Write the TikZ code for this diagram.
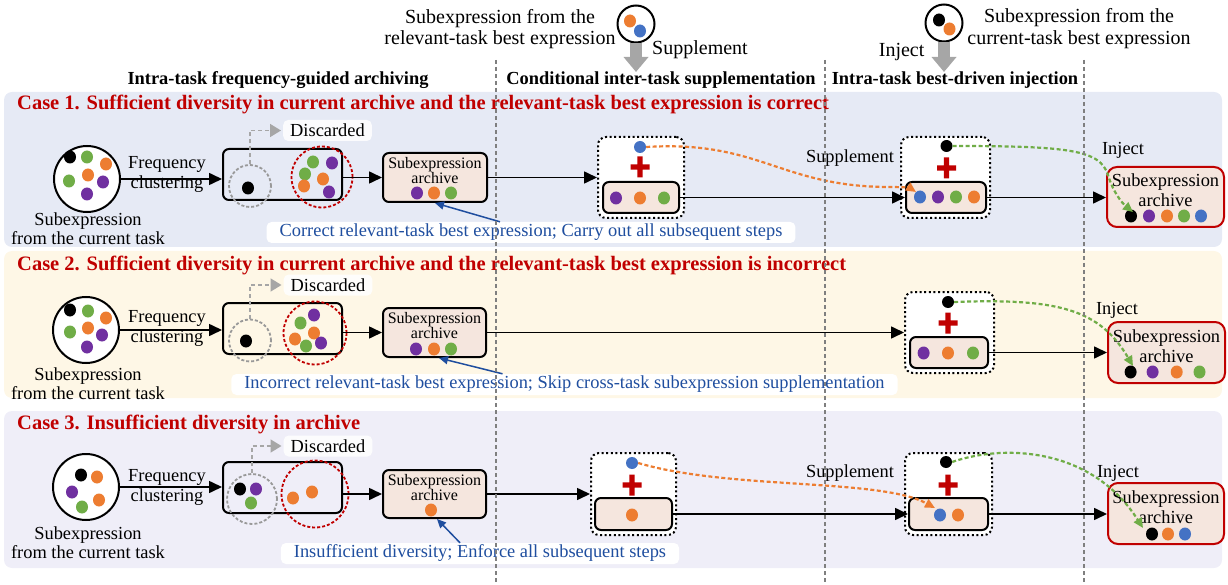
\documentclass[tikz,border=0pt]{standalone}
\usepackage{fontspec}
\setmainfont{Liberation Serif}
\usetikzlibrary{arrows.meta,calc}
\definecolor{cred}{HTML}{C00000}
\definecolor{cgreen}{HTML}{70AD47}
\definecolor{corange}{HTML}{ED7D31}
\definecolor{cpurple}{HTML}{7030A0}
\definecolor{cblue}{HTML}{4472C4}
\definecolor{ctext}{HTML}{1F4E9F}
\definecolor{bandA}{HTML}{E6EAF5}
\definecolor{bandB}{HTML}{FEF7E6}
\definecolor{bandC}{HTML}{EFEEF8}
\definecolor{arcfill}{HTML}{F5E6DE}
\definecolor{lgray}{HTML}{A6A6A6}
\definecolor{dgray}{HTML}{7F7F7F}
\newcommand\dt[3]{\fill[#1] (#2,#3) ellipse [x radius=6pt, y radius=6.5pt];}
\newcommand\plusat[2]{\fill[cred, shift={(#1,#2)}] (-9.5,-2.6) rectangle (9.5,2.6) (-2.6,-10.5) rectangle (2.6,10.5);}
\tikzset{
  body/.style={font=\fontsize{18.4}{19}\selectfont, inner sep=0pt, align=center},
  twoline/.style={font=\fontsize{18.4}{20}\selectfont, inner sep=0pt, align=center},
  toptext/.style={font=\fontsize{20}{21.5}\selectfont, inner sep=0pt, align=center},
  headt/.style={font=\bfseries\fontsize{18.4}{19}\selectfont, inner sep=0pt},
  titlet/.style={font=\bfseries\fontsize{20.5}{21}\selectfont, text=cred, inner sep=0pt, anchor=west},
  boxc/.style={draw, line width=2pt, rounded corners=6pt, inner sep=0pt},
  arcbox/.style={boxc, fill=arcfill},
  arctext/.style={font=\fontsize{16}{15}\selectfont, inner sep=0pt, align=center},
  fintext/.style={font=\fontsize{18.4}{20}\selectfont, inner sep=0pt, align=center},
  finbox/.style={draw=cred, line width=2pt, rounded corners=10pt, fill=arcfill, inner sep=0pt},
  dotbox/.style={draw, line width=2pt, dash pattern=on 2pt off 2.6pt, rounded corners=8pt, fill=white, inner sep=0pt},
  incirc/.style={draw, circle, line width=2pt, fill=white, minimum size=66pt, inner sep=0pt},
  topcirc/.style={draw, circle, line width=2pt, fill=white, minimum size=37pt, inner sep=0pt},
  graycirc/.style={draw=dgray!80, circle, line width=1.8pt, dash pattern=on 3pt off 2pt, inner sep=0pt},
  redcirc/.style={draw=cred, circle, line width=1.8pt, dash pattern=on 3pt off 2pt, inner sep=0pt},
  dotn/.style={circle, inner sep=0pt, minimum size=12pt},
  disclab/.style={font=\fontsize{18.4}{19}\selectfont, fill=white, fill opacity=0.85, text opacity=1, rounded corners=5pt, inner xsep=7pt, minimum height=21pt, inner ysep=0pt},
  bluelab/.style={font=\fontsize{18.4}{19}\selectfont, text=ctext, fill=white, rounded corners=5pt, inner xsep=13pt, minimum height=21pt, inner ysep=0pt},
  arr/.style={line width=1.6pt, -{Triangle[length=13pt,width=12pt]}},
  grayarr/.style={draw=lgray, line width=1.6pt, dash pattern=on 4pt off 3pt, -{Triangle[length=11pt,width=13pt]}, shorten >=2pt},
  bluearr/.style={draw=ctext, line width=1.5pt, -{Triangle[length=9pt,width=8pt]}},
  odash/.style={draw=corange, line width=2.2pt, dash pattern=on 4pt off 2.5pt, -{Triangle[length=10pt,width=9pt]}},
  gdash/.style={draw=cgreen, line width=2.2pt, dash pattern=on 4pt off 2.5pt, -{Triangle[length=10pt,width=9pt]}},
  bigarr/.style={draw=lgray, line width=12pt, -{Triangle[length=15pt,width=24pt]}},
  vdash/.style={draw=dgray, line width=1.3pt, dash pattern=on 4pt off 3pt}
}
\begin{document}
\begin{tikzpicture}[x=1pt,y=-1pt]
\useasboundingbox (0,0) rectangle (1228,585);
% bands
\fill[bandA, rounded corners=8pt] (4,92) rectangle (1222,247);
\fill[bandB, rounded corners=8pt] (4,251) rectangle (1222,398);
\fill[bandC, rounded corners=8pt] (4,411) rectangle (1222,568);

% top
\node[toptext] (tl) at (500,29) {Subexpression from the\\relevant-task best expression};
\node[topcirc] (tc1) at (636,24) {};
\dt{corange}{630}{21}\dt{cblue}{640}{31}
\coordinate (tc1tip) at (636,72);
\draw[bigarr] (tc1.south) -- (tc1tip);
\node[toptext] (sup0) at (700,50) {Supplement};
\node[topcirc] (tc2) at (944,23) {};
\dt{black}{939}{20}\dt{corange}{949.5}{29}
\coordinate (tc2tip) at (944,72);
\draw[bigarr] (tc2.south) -- (tc2tip);
\node[toptext] (inj0) at (901.6,52) {Inject};
\node[toptext] (tr) at (1079,28.5) {Subexpression from the\\current-task best expression};

% headers
\node[headt] (h1) at (278,80) {Intra-task frequency-guided archiving};
\node[headt] (h2) at (661,80) {Conditional inter-task supplementation};
\node[headt] (h3) at (955,80) {Intra-task best-driven injection};

%================ CASE 1
\node[titlet] (t1) at (17,104) {Case 1. Sufficient diversity in current archive and the relevant-task best expression is correct};
\node[incirc] (inA) at (87,179) {};
\dt{black}{70}{157}\dt{cgreen}{87}{157}\dt{corange}{106}{164}\dt{cgreen}{69}{181}
\dt{corange}{88}{175}\dt{cpurple}{103}{182}\dt{cpurple}{87}{194}
\node[body] (subA) at (88,228.5) {Subexpression\\from the current task};
\node[twoline] (fqA) at (167,174) {Frequency\\clustering};
\node[boxc, minimum width=119pt, minimum height=51pt] (clA) at (282.5,174.5) {};
\node[graycirc, minimum size=42pt] (gcA) at (250,186) {};
\dt{black}{248}{188}
\node[redcirc, minimum size=61pt] (rcA) at (322,177) {};
\dt{cgreen}{313}{162}\dt{cpurple}{332}{163}\dt{cgreen}{305}{174}
\dt{corange}{323}{179}\dt{corange}{304}{186}\dt{cpurple}{329}{192}
\node[disclab] (dcA) at (327.5,130.5) {Discarded};
\draw[grayarr] (gcA.north) |- (dcA.west);
\draw[arr] (inA.east) -- (inA.east -| clA.west);
\node[arcbox, minimum width=104pt, minimum height=49pt] (arA) at (435,177.5) {};
\node[arctext] (arAt) at (435,170.5) {Subexpression\\archive};
\dt{cpurple}{417}{193}\dt{corange}{434}{193}\dt{cgreen}{451}{193}
\draw[arr] (clA.east |- arA.west) -- (arA.west);
\node[dotbox, minimum width=86pt, minimum height=81pt] (dbA1) at (641,177.5) {};
\node[arcbox, minimum width=76pt, minimum height=31pt] (ibA1) at (641,197.5) {};
\node[dotn, fill=cblue] (bdA) at (640,147) {};
\plusat{640}{167}
\dt{cpurple}{616}{198}\dt{corange}{640}{198}\dt{cgreen}{664}{198}
\draw[arr] (arA.east) -- (dbA1.west);
\node[dotbox, minimum width=89pt, minimum height=81pt] (dbA2) at (945.5,177.5) {};
\node[arcbox, minimum width=80pt, minimum height=31pt] (ibA2) at (946,197.5) {};
\node[dotn, fill=black] (kdA) at (946.5,146) {};
\plusat{946.5}{168}
\dt{cblue}{920}{197}\dt{cpurple}{938}{197}\dt{cgreen}{956}{197}\dt{corange}{974}{197}
\draw[arr] (ibA1.east) -- (ibA2.west);
\node[finbox, minimum width=117pt, minimum height=60pt] (fnA) at (1165.5,197) {};
\node[fintext] (fnAt) at (1165.5,190) {Subexpression\\archive};
\dt{black}{1131}{216}\dt{cpurple}{1149}{216}\dt{corange}{1167}{216}\dt{cgreen}{1184}{216}\dt{cblue}{1201}{216}
\draw[arr] (ibA2.east) -- (ibA2.east -| fnA.west);
\node[body] (spA) at (850,158) {Supplement};
\node[body] (ijA) at (1123,150) {Inject};
\coordinate (toA) at (916,192);
\draw[odash] (bdA.east) .. controls (760,140) and (780,187) .. (890,187) .. controls (902,187) and (910,188) .. (toA);
\coordinate (tgA) at (1133,212);
\draw[gdash] (kdA.east) .. controls (1070,146) and (1100,150) .. (1108,175) .. controls (1113,192) and (1122,203) .. (tgA);
\node[bluelab] (lbA) at (531,232.5) {Correct relevant-task best expression; Carry out all subsequent steps};
\draw[bluearr] ([xshift=-31pt]lbA.north) -- (arA.south);

%================ CASE 2
\node[titlet] (t2) at (17,265) {Case 2. Sufficient diversity in current archive and the relevant-task best expression is incorrect};
\node[incirc] (inB) at (86,330) {};
\dt{black}{70}{310}\dt{cgreen}{88}{311}\dt{corange}{106}{318}\dt{cgreen}{70}{332}
\dt{corange}{88}{328}\dt{cpurple}{102}{335}\dt{cpurple}{87}{347}
\node[body] (subB) at (88,383.5) {Subexpression\\from the current task};
\node[twoline] (fqB) at (167,328) {Frequency\\clustering};
\node[boxc, minimum width=119pt, minimum height=51pt] (clB) at (282.5,328.5) {};
\node[graycirc, minimum size=42pt] (gcB) at (250,340.5) {};
\dt{black}{246}{341}
\node[redcirc, minimum size=63pt] (rcB) at (315,333) {};
\dt{cpurple}{314}{315}\dt{cgreen}{300.5}{323}\dt{corange}{314}{333}
\dt{corange}{295}{339}\dt{cpurple}{321}{343}\dt{cgreen}{306}{346}
\node[disclab] (dcB) at (328,285) {Discarded};
\draw[grayarr] (gcB.north) |- (dcB.west);
\draw[arr] (inB.east) -- (inB.east -| clB.west);
\node[arcbox, minimum width=103pt, minimum height=49pt] (arB) at (434.5,332.5) {};
\node[arctext] (arBt) at (434.5,325.5) {Subexpression\\archive};
\dt{cpurple}{416}{349}\dt{corange}{434}{349}\dt{cgreen}{451}{349}
\draw[arr] (clB.east |- arB.west) -- (arB.west);
\node[dotbox, minimum width=89pt, minimum height=81pt] (dbB) at (949.5,332.5) {};
\node[arcbox, minimum width=78pt, minimum height=31pt] (ibB) at (949,352.5) {};
\node[dotn, fill=black] (kdB) at (948,302) {};
\plusat{948}{323}
\dt{cpurple}{923.6}{353}\dt{corange}{948}{353}\dt{cgreen}{973}{353}
\draw[arr] (arB.east) -- (dbB.west);
\node[finbox, minimum width=117pt, minimum height=61pt] (fnB) at (1166.5,352.5) {};
\node[fintext] (fnBt) at (1166.5,346) {Subexpression\\archive};
\dt{black}{1130.6}{372}\dt{cpurple}{1152.6}{372}\dt{corange}{1176.7}{372}\dt{cgreen}{1199.5}{372}
\draw[arr] (ibB.east) -- (ibB.east -| fnB.west);
\node[body] (ijB) at (1117,310) {Inject};
\coordinate (tgB) at (1133,366);
\draw[gdash] (kdB.east) .. controls (1060,298) and (1100,310) .. (tgB);
\node[bluelab] (lbB) at (564.5,384.5) {Incorrect relevant-task best expression; Skip cross-task subexpression supplementation};
\draw[bluearr] ([xshift=-62pt]lbB.north) -- ([xshift=4.5pt]arB.south);

%================ CASE 3
\node[titlet] (t3) at (17,424) {Case 3. Insufficient diversity in archive};
\node[incirc] (inC) at (86,487) {};
\dt{black}{81}{475}\dt{corange}{97}{477}\dt{cpurple}{72}{492}\dt{corange}{99}{500}\dt{cgreen}{82}{507}
\node[body] (subC) at (88,543) {Subexpression\\from the current task};
\node[twoline] (fqC) at (167,487) {Frequency\\clustering};
\node[boxc, minimum width=119pt, minimum height=51pt] (clC) at (282.5,487.5) {};
\node[graycirc, minimum size=50pt] (gcC) at (252,499) {};
\dt{black}{240}{489}\dt{cpurple}{256}{489}\dt{cgreen}{251}{503}
\node[redcirc, minimum size=67pt] (rcC) at (315,494) {};
\dt{corange}{293}{498}\dt{corange}{312}{492}
\node[disclab] (dcC) at (328,446) {Discarded};
\draw[grayarr] (gcC.north) |- (dcC.west);
\draw[arr] (inC.east) -- (inC.east -| clC.west);
\node[arcbox, minimum width=103pt, minimum height=48pt] (arC) at (434.5,494) {};
\node[arctext] (arCt) at (434.5,487.5) {Subexpression\\archive};
\dt{corange}{431}{510}
\draw[arr] (clC.east |- arC.west) -- (arC.west);
\node[dotbox, minimum width=85pt, minimum height=82pt] (dbC1) at (633.5,494) {};
\node[arcbox, minimum width=77pt, minimum height=32pt] (ibC1) at (633.5,514) {};
\node[dotn, fill=cblue] (bdC) at (632,463) {};
\plusat{632}{485}
\dt{corange}{632}{515}
\draw[arr] (arC.east) -- (dbC1.west);
\node[dotbox, minimum width=87pt, minimum height=82pt] (dbC2) at (948.5,494) {};
\node[arcbox, minimum width=79pt, minimum height=32pt] (ibC2) at (948.5,514) {};
\node[dotn, fill=black] (kdC) at (946,462) {};
\plusat{948}{485}
\dt{cblue}{940}{515}\dt{corange}{958}{515}
\draw[arr] (ibC1.east) -- (ibC2.west);
\node[finbox, minimum width=116pt, minimum height=61pt] (fnC) at (1166,513.5) {};
\node[fintext] (fnCt) at (1166,507) {Subexpression\\archive};
\dt{black}{1152}{534}\dt{corange}{1168}{534}\dt{cblue}{1185}{534}
\draw[arr] (ibC2.east) -- (ibC2.east -| fnC.west);
\node[body] (spC) at (850,473) {Supplement};
\node[body] (ijC) at (1118,473) {Inject};
\coordinate (toC) at (935,508);
\draw[odash] (bdC.east) .. controls (730,490) and (880,478) .. (toC);
\coordinate (tgC) at (1143,528);
\draw[gdash] (kdC.east) .. controls (1000,445) and (1090,445) .. (tgC);
\node[bluelab] (lbC) at (480,553.5) {Insufficient diversity; Enforce all subsequent steps};
\draw[bluearr] ([xshift=-20pt]lbC.north) -- ([xshift=2.5pt]arC.south);

% vertical separators
\coordinate (v1t) at (496,60); \coordinate (v1b) at (496,585);
\coordinate (v2t) at (825,60); \coordinate (v2b) at (825,585);
\coordinate (v3t) at (1084,60); \coordinate (v3b) at (1084,585);
\draw[vdash] (v1t) -- (v1b);
\draw[vdash] (v2t) -- (v2b);
\draw[vdash] (v3t) -- (v3b);
\end{tikzpicture}
\end{document}
